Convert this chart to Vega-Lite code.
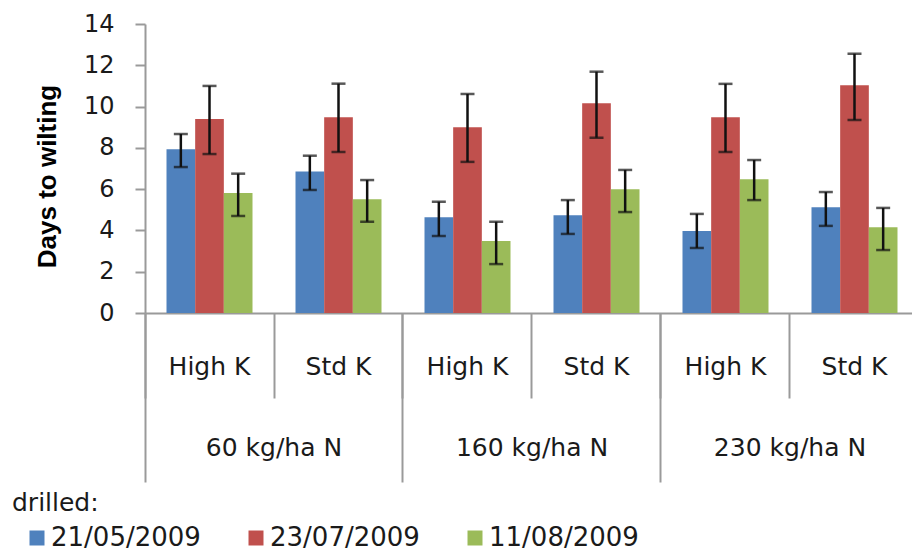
{
  "$schema": "https://vega.github.io/schema/vega-lite/v6.json",
  "width": 767,
  "height": 289,
  "autosize": {"type": "none"},
  "padding": {"left": 145, "top": 24, "right": 0, "bottom": 240},
  "background": "white",
  "config": {"view": {"stroke": null}, "font": "DejaVu Sans"},
  "data": {
    "values": [
      {"group": "60 kg/ha N|High K", "drilled": "21/05/2009", "days": 7.93, "lower": 7.07, "upper": 8.67},
      {"group": "60 kg/ha N|High K", "drilled": "23/07/2009", "days": 9.40, "lower": 7.70, "upper": 11.00},
      {"group": "60 kg/ha N|High K", "drilled": "11/08/2009", "days": 5.81, "lower": 4.70, "upper": 6.75},
      {"group": "60 kg/ha N|Std K", "drilled": "21/05/2009", "days": 6.86, "lower": 5.96, "upper": 7.62},
      {"group": "60 kg/ha N|Std K", "drilled": "23/07/2009", "days": 9.48, "lower": 7.80, "upper": 11.11},
      {"group": "60 kg/ha N|Std K", "drilled": "11/08/2009", "days": 5.51, "lower": 4.42, "upper": 6.44},
      {"group": "160 kg/ha N|High K", "drilled": "21/05/2009", "days": 4.64, "lower": 3.73, "upper": 5.39},
      {"group": "160 kg/ha N|High K", "drilled": "23/07/2009", "days": 9.00, "lower": 7.32, "upper": 10.61},
      {"group": "160 kg/ha N|High K", "drilled": "11/08/2009", "days": 3.49, "lower": 2.37, "upper": 4.42},
      {"group": "160 kg/ha N|Std K", "drilled": "21/05/2009", "days": 4.73, "lower": 3.83, "upper": 5.47},
      {"group": "160 kg/ha N|Std K", "drilled": "23/07/2009", "days": 10.16, "lower": 8.49, "upper": 11.69},
      {"group": "160 kg/ha N|Std K", "drilled": "11/08/2009", "days": 5.99, "lower": 4.89, "upper": 6.93},
      {"group": "230 kg/ha N|High K", "drilled": "21/05/2009", "days": 3.97, "lower": 3.15, "upper": 4.80},
      {"group": "230 kg/ha N|High K", "drilled": "23/07/2009", "days": 9.48, "lower": 7.80, "upper": 11.10},
      {"group": "230 kg/ha N|High K", "drilled": "11/08/2009", "days": 6.48, "lower": 5.47, "upper": 7.41},
      {"group": "230 kg/ha N|Std K", "drilled": "21/05/2009", "days": 5.12, "lower": 4.22, "upper": 5.86},
      {"group": "230 kg/ha N|Std K", "drilled": "23/07/2009", "days": 11.03, "lower": 9.35, "upper": 12.56},
      {"group": "230 kg/ha N|Std K", "drilled": "11/08/2009", "days": 4.15, "lower": 3.05, "upper": 5.09}
    ]
  },
  "resolve": {"axis": {"x": "independent", "y": "independent"}},
  "layer": [
    {
      "mark": {"type": "bar"},
      "encoding": {
        "x": {
          "field": "group", "type": "nominal", "sort": null,
          "scale": {"paddingInner": 0.3333, "paddingOuter": 0.1667, "range": [0, 774]},
          "axis": {
            "title": null, "orient": "bottom", "bandPosition": -0.25,
            "domain": true, "domainColor": "#9a9a9a", "domainWidth": 2,
            "ticks": true, "tickColor": "#9a9a9a", "tickWidth": 2, "tickSize": 85,
            "labelExpr": "split(datum.value, '|')[1]",
            "labelFont": "DejaVu Sans", "labelFontSize": 25, "labelColor": "#1a1a1a", "labelPadding": -44,
            "labelOverlap": false, "labelBound": false, "labelFlush": false, "labelAngle": 0,
            "grid": false
          }
        },
        "xOffset": {
          "field": "drilled", "type": "nominal",
          "sort": ["21/05/2009", "23/07/2009", "11/08/2009"],
          "scale": {"paddingInner": 0, "paddingOuter": 0}
        },
        "y": {
          "field": "days", "type": "quantitative",
          "scale": {"domain": [0, 14], "nice": false},
          "axis": {
            "title": "Days to wilting", "values": [0, 2, 4, 6, 8, 10, 12, 14],
            "domainColor": "#9a9a9a", "domainWidth": 2,
            "tickColor": "#9a9a9a", "tickWidth": 2, "tickSize": 10,
            "labelFont": "DejaVu Sans", "labelFontSize": 24, "labelColor": "#1a1a1a", "labelPadding": 21,
            "grid": false,
            "titleFont": "Liberation Sans", "titleFontSize": 26, "titleFontWeight": "bold", "titleColor": "#000",
            "titlePadding": 23, "titleY": 152
          }
        },
        "color": {
          "field": "drilled", "type": "nominal",
          "sort": ["21/05/2009", "23/07/2009", "11/08/2009"],
          "scale": {"domain": ["21/05/2009", "23/07/2009", "11/08/2009"], "range": ["#4F81BD", "#C0504D", "#9BBB59"]},
          "legend": {
            "title": "drilled:", "orient": "none", "legendX": -133, "legendY": 467,
            "direction": "horizontal", "titleFont": "DejaVu Sans", "titleFontSize": 25, "titleFontWeight": "normal",
            "titleColor": "#1a1a1a", "titlePadding": 9, "titleAnchor": "start",
            "labelFont": "DejaVu Sans", "labelFontSize": 26, "labelColor": "#1a1a1a", "labelLimit": 300,
            "symbolType": "square", "symbolSize": 225, "symbolStrokeWidth": 0,
            "symbolOffset": 12, "labelOffset": 1, "columnPadding": 30, "padding": 0
          }
        }
      }
    },
    {
      "mark": {"type": "rule", "color": "#111", "strokeWidth": 2.5},
      "encoding": {
        "x": {
          "field": "group", "type": "nominal", "sort": null,
          "axis": {
            "title": null, "orient": "bottom", "bandPosition": -0.25,
            "domain": false, "ticks": true, "tickColor": "#9a9a9a", "tickWidth": 2, "tickSize": 169,
            "tickOpacity": {"condition": {"test": "indexof(datum.value, 'High K') >= 0", "value": 1}, "value": 0},
            "labelExpr": "indexof(datum.value, 'High K') >= 0 ? split(datum.value, '|')[0] : ''",
            "labelOffset": 64.5, "labelFont": "DejaVu Sans", "labelFontSize": 25, "labelColor": "#1a1a1a", "labelPadding": -47,
            "labelOverlap": false, "labelBound": false, "labelFlush": false, "labelAngle": 0,
            "grid": false
          }
        },
        "xOffset": {"field": "drilled", "type": "nominal", "sort": ["21/05/2009", "23/07/2009", "11/08/2009"]},
        "y": {"field": "lower", "type": "quantitative", "axis": null},
        "y2": {"field": "upper"}
      }
    },
    {
      "mark": {"type": "tick", "color": "#111", "thickness": 2.5, "size": 14},
      "encoding": {
        "x": {"field": "group", "type": "nominal", "sort": null, "axis": null},
        "xOffset": {"field": "drilled", "type": "nominal", "sort": ["21/05/2009", "23/07/2009", "11/08/2009"]},
        "y": {"field": "upper", "type": "quantitative", "axis": null}
      }
    },
    {
      "mark": {"type": "tick", "color": "#111", "thickness": 2.5, "size": 14},
      "encoding": {
        "x": {"field": "group", "type": "nominal", "sort": null, "axis": null},
        "xOffset": {"field": "drilled", "type": "nominal", "sort": ["21/05/2009", "23/07/2009", "11/08/2009"]},
        "y": {"field": "lower", "type": "quantitative", "axis": null}
      }
    }
  ]
}
